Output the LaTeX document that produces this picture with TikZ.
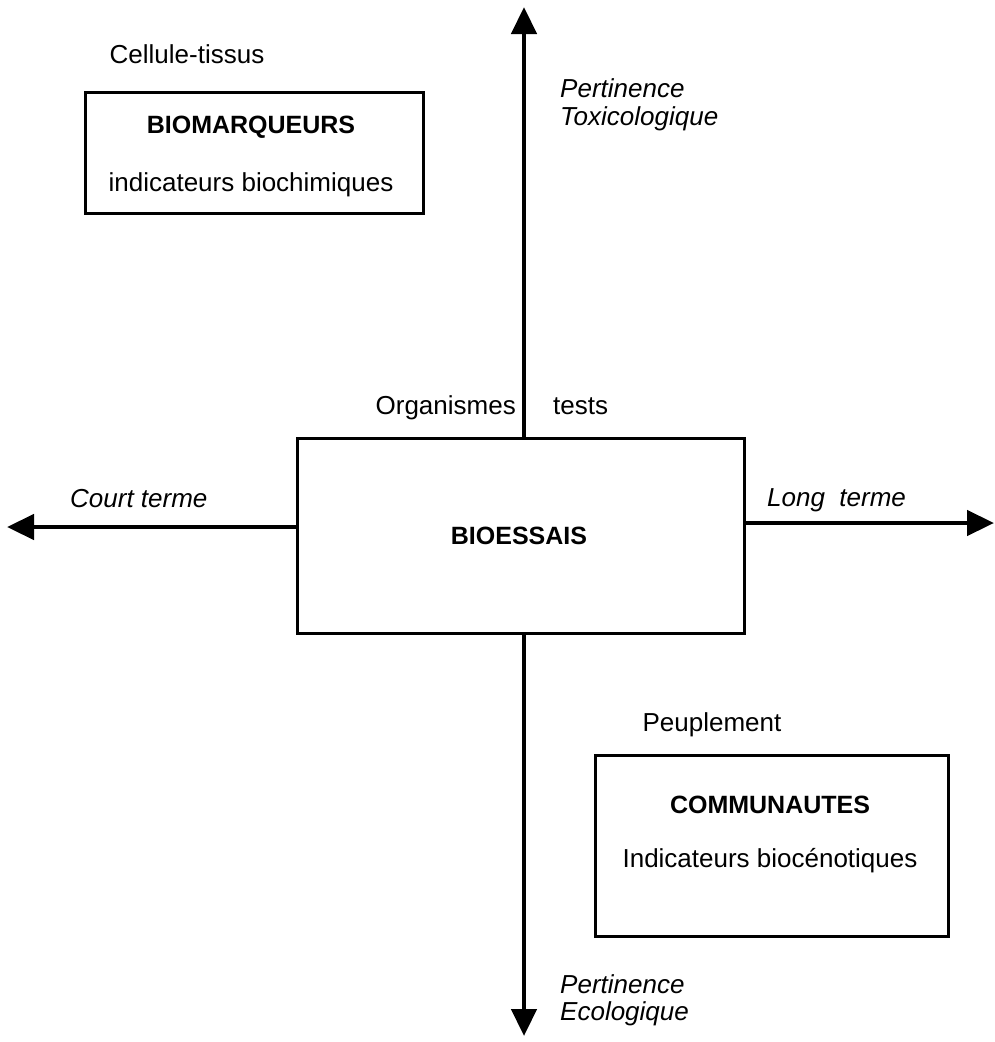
\documentclass[tikz,border=0pt]{standalone}
\usepackage{fontspec}
\setmainfont{Liberation Sans}
\usetikzlibrary{arrows.meta}
\begin{document}
\begin{tikzpicture}[x=1pt,y=-1pt,
  lbl/.style={font=\fontsize{26}{31}\selectfont, inner sep=0pt, anchor=base},
  ilbl/.style={lbl, font=\fontsize{26}{31}\selectfont\itshape},
  blbl/.style={lbl, font=\fontsize{25}{30}\selectfont\bfseries},
  box/.style={draw, line width=3pt, inner sep=0pt, anchor=north west},
  axis/.style={line width=4.5pt, -{Triangle[length=27pt,width=25pt]}}]
\useasboundingbox (0,0) rectangle (994,1042);
% boxes
\node[box, minimum width=338pt, minimum height=121pt] (bio) at (83.5,90.5) {};
\node[box, minimum width=447pt, minimum height=195pt] (ess) at (295.5,436.5) {};
\node[box, minimum width=353pt, minimum height=181pt] (com) at (593.5,753.5) {};
% axis end points
\coordinate (top) at (524,7);
\coordinate (bot) at (524,1036);
\coordinate (lft) at (7,527);
\coordinate (rgt) at (994,523);
\draw[axis] (ess.north -| top) -- (top);
\draw[axis] (ess.south -| bot) -- (bot);
\draw[axis] (ess.west |- lft) -- (lft);
\draw[axis] (ess.east |- rgt) -- (rgt);
% texts
\node[lbl] (cell) at (187,63) {Cellule-tissus};
\node[blbl] (biot) at (251,133) {BIOMARQUEURS};
\node[lbl] (bioi) at (251,191) {indicateurs biochimiques};
\node[ilbl, anchor=base west] (pt1) at (560,97) {Pertinence};
\node[ilbl, anchor=base west] (pt2) at (560,125) {Toxicologique};
\node[lbl, anchor=base east] (org) at (516,414) {Organismes};
\node[lbl, anchor=base west] (tst) at (553,414) {tests};
\node[blbl] (esst) at (519,544) {BIOESSAIS};
\node[ilbl, anchor=base west] (ct) at (70,507) {Court terme};
\node[ilbl, anchor=base west] (lt) at (767,506) {Long\ \ terme};
\node[lbl] (peu) at (712,731) {Peuplement};
\node[blbl] (comt) at (770,813) {COMMUNAUTES};
\node[lbl] (comi) at (770,867) {Indicateurs biocénotiques};
\node[ilbl, anchor=base west] (pe1) at (560,993) {Pertinence};
\node[ilbl, anchor=base west] (pe2) at (560,1020) {Ecologique};
\end{tikzpicture}
\end{document}
